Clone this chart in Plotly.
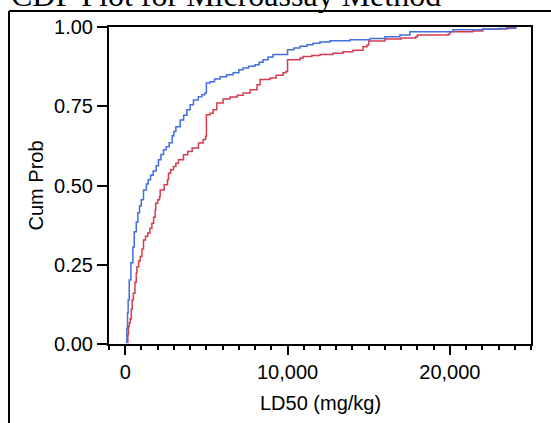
import plotly.graph_objects as go

blue_ld50 = [60, 100, 142, 180, 246, 350, 474, 554, 680, 780, 880, 985, 1126, 1300, 1415,
             1560, 1723, 1900, 2049, 2200, 2357, 2520, 2708, 2892, 3000, 3120, 3385, 3600,
             3797, 4000, 4203, 4500, 4720, 4900, 5000, 5230, 5500, 5846, 6250, 6646, 7000,
             7262, 7600, 8000, 8250, 8492, 8800, 9108, 10000, 10400, 10770, 11200, 11570,
             12000, 12615, 13846, 15077, 16000, 16923, 17538, 20185, 22030, 23000, 23690, 24060]
blue_cum = [0.005, 0.05, 0.098, 0.139, 0.202, 0.256, 0.306, 0.354, 0.385, 0.414, 0.435, 0.455,
            0.486, 0.505, 0.518, 0.532, 0.546, 0.562, 0.581, 0.598, 0.613, 0.622, 0.635, 0.657,
            0.670, 0.685, 0.707, 0.722, 0.739, 0.755, 0.770, 0.780, 0.786, 0.792, 0.823, 0.827,
            0.836, 0.843, 0.849, 0.856, 0.865, 0.871, 0.876, 0.881, 0.889, 0.897, 0.905, 0.913,
            0.928, 0.934, 0.939, 0.944, 0.949, 0.953, 0.957, 0.960, 0.964, 0.969, 0.975, 0.985,
            0.991, 0.993, 0.995, 0.996, 1.0]

red_ld50 = [120, 160, 200, 250, 308, 370, 430, 500, 600, 677, 720, 830, 923, 1030, 1126, 1250,
            1385, 1520, 1643, 1750, 1846, 1877, 2000, 2111, 2154, 2400, 2603, 2665, 2800, 2972,
            3120, 3280, 3588, 3850, 4123, 4511, 4800, 4950, 5000, 5230, 5415, 5643, 6030, 6460,
            6900, 7262, 7692, 8123, 8308, 8923, 9300, 9723, 9900, 10000, 10770, 10954, 11500,
            12000, 12800, 13415, 14030, 14646, 14900, 15000, 16000, 17000, 17900, 18000, 19900,
            20000, 21415, 22030, 23508, 24000]
red_cum = [0.005, 0.03, 0.055, 0.066, 0.080, 0.110, 0.139, 0.160, 0.195, 0.223, 0.244, 0.262,
           0.276, 0.300, 0.328, 0.340, 0.350, 0.365, 0.381, 0.400, 0.423, 0.444, 0.455, 0.465,
           0.486, 0.502, 0.518, 0.539, 0.550, 0.560, 0.570, 0.581, 0.597, 0.607, 0.618, 0.634,
           0.645, 0.655, 0.723, 0.728, 0.739, 0.760, 0.773, 0.779, 0.785, 0.792, 0.802, 0.818,
           0.834, 0.839, 0.848, 0.856, 0.860, 0.897, 0.902, 0.907, 0.910, 0.913, 0.917, 0.922,
           0.927, 0.938, 0.943, 0.956, 0.962, 0.965, 0.969, 0.975, 0.977, 0.985, 0.987, 0.994,
           0.998, 1.0]

y_ticks = [0, 0.25, 0.5, 0.75, 1.0]
y_labels = ["0.00", "0.25", "0.50", "0.75", "1.00"]
x_ticks = [0, 10000, 20000]
x_labels = ["0", "10,000", "20,000"]

title_text = "CDF Plot for Microassay Method"
x_title = "LD50 (mg/kg)"
y_title = "Cum Prob"

fig = go.Figure()
fig.add_trace(go.Scatter(x=red_ld50, y=red_cum, mode="lines", line_shape="hv",
                         line=dict(color="rgb(214,60,80)", width=1.5), showlegend=False))
fig.add_trace(go.Scatter(x=blue_ld50, y=blue_cum, mode="lines", line_shape="hv",
                         line=dict(color="rgb(66,110,224)", width=1.5), showlegend=False))

tick_font = dict(family="Liberation Sans, Arial, sans-serif", size=20, color="black")

fig.update_layout(
    width=551, height=423,
    margin=dict(l=109, r=20, t=27, b=79),
    paper_bgcolor="white", plot_bgcolor="white",
    xaxis=dict(range=[-1000, 25000], tickmode="array", tickvals=x_ticks, ticktext=x_labels,
               ticks="outside", ticklen=9, tickwidth=1.5, tickcolor="black",
               showline=True, linecolor="black", linewidth=2, mirror=True,
               showgrid=False, zeroline=False, tickfont=tick_font,
               minor=dict(dtick=1000, tick0=0, ticks="outside", ticklen=4, tickwidth=1.5,
                          tickcolor="black", showgrid=False)),
    yaxis=dict(range=[0, 1.0], tickmode="array", tickvals=y_ticks, ticktext=y_labels,
               ticks="outside", ticklen=10, tickwidth=1.5, tickcolor="black",
               showline=True, linecolor="black", linewidth=2, mirror=True,
               showgrid=False, zeroline=False, tickfont=tick_font),
    shapes=[
        dict(type="line", xref="paper", yref="paper", x0=-0.237, x1=1.3, y0=1.0505, y1=1.0505,
             line=dict(color="black", width=2)),
        dict(type="line", xref="paper", yref="paper", x0=-0.237, x1=-0.237, y0=1.0505, y1=-0.4,
             line=dict(color="black", width=2)),
    ],
    annotations=[
        dict(text=title_text, xref="paper", yref="paper", x=-0.237, y=1.102,
             xanchor="left", yanchor="middle", showarrow=False,
             font=dict(family="Liberation Serif, Times New Roman, serif", size=32, color="black")),
        dict(text=x_title, xref="paper", yref="paper", x=0.5, y=-0.186,
             xanchor="center", yanchor="middle", showarrow=False, font=tick_font),
        dict(text=y_title, xref="paper", yref="paper", x=-0.173, y=0.5, textangle=-90,
             xanchor="center", yanchor="middle", showarrow=False, font=tick_font),
    ],
)

fig.write_html("out.html")
